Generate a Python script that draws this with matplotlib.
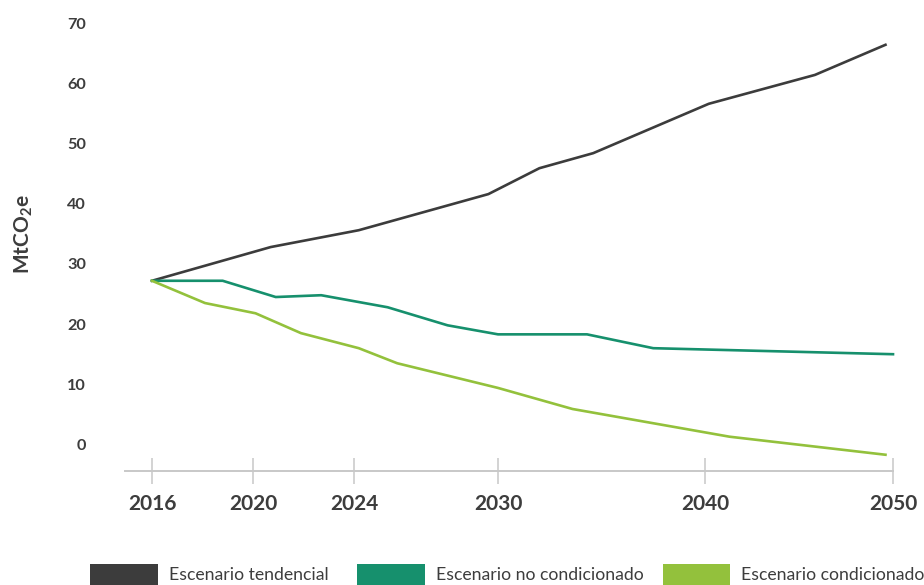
#!/usr/bin/env python
# -*- coding: utf-8 -*-

import matplotlib
matplotlib.use("Agg")
import matplotlib.pyplot as plt
import numpy as np
from matplotlib.patches import Rectangle

plt.rcParams.update({
	'font.family': ['Lato', 'DejaVu Sans'],
	'mathtext.fontset': 'custom',
	'mathtext.rm': 'Lato',
	'mathtext.bf': 'Lato:bold',
})

# datos (MtCO2e)
anios_tend = [2016, 2020.7, 2024.2, 2029.6, 2032.0, 2034.6, 2040.2, 2045.85, 2049.6]
tendencial = [27.2, 32.8, 35.6, 41.6, 45.9, 48.4, 56.6, 61.4, 66.4]

anios_nocond = [2016, 2018.8, 2020.9, 2022.7, 2025.4, 2027.9, 2030.0, 2034.3, 2037.5, 2050]
no_condicionado = [27.2, 27.2, 24.5, 24.8, 22.8, 19.8, 18.3, 18.3, 16.0, 15.0]

anios_cond = [2016, 2018.1, 2020.1, 2021.9, 2024.2, 2025.8, 2030.0, 2033.6, 2041.3, 2049.6]
condicionado = [27.2, 23.5, 21.8, 18.5, 16.0, 13.5, 9.4, 5.9, 1.3, -1.7]

ticks_x = [2016, 2020, 2024, 2030, 2040, 2050]
ticks_y = [0, 10, 20, 30, 40, 50, 60, 70]

nombres = ["Escenario tendencial", "Escenario no condicionado", "Escenario condicionado"]
colores = ["#3c3c3c", "#16906d", "#93c13c"]

# el eje x original no es lineal: se reproduce con una escala por tramos
_anc_anio = np.array([2000, 2016, 2020, 2024, 2030, 2040, 2050, 2070], dtype=float)
_anc_pos = np.array([-252, 152, 253, 354, 498, 705, 893, 1269], dtype=float)


def fwd(x):
	return np.interp(x, _anc_anio, _anc_pos)


def inv(p):
	return np.interp(p, _anc_pos, _anc_anio)


def main():
	fig = plt.figure(figsize=(9.24, 5.85), dpi=100)
	W, H = 924., 585.
	ax = fig.add_axes([125/W, 1-471/H, 768/W, 456/H])
	ax.set_xscale('function', functions=(fwd, inv))

	series = [(anios_tend, tendencial), (anios_nocond, no_condicionado), (anios_cond, condicionado)]
	for (xx, yy), c, n in zip(series, colores, nombres):
		ax.plot(xx, yy, color=c, lw=1.9, label=n, clip_on=False, solid_joinstyle='round')

	ax.set_xlim(inv(125), 2050)
	ax.set_ylim(-4.4, 71.35)

	for s in ['top', 'right', 'left']:
		ax.spines[s].set_visible(False)
	ax.spines['bottom'].set_color('#c8c8c8')
	ax.spines['bottom'].set_linewidth(1.4)

	ax.set_xticks(ticks_x)
	ax.set_xticklabels([str(t) for t in ticks_x], fontweight='bold')
	ax.tick_params(axis='x', direction='inout', length=19, width=1.1, color='#c8c8c8',
				pad=7, labelsize=15, labelcolor='#3d3d3d')
	ax.set_yticks(ticks_y)
	ax.set_yticklabels([str(t) for t in ticks_y], fontweight='bold')
	ax.tick_params(axis='y', length=0, pad=28, labelsize=11.7, labelcolor='#3d3d3d')
	ax.minorticks_off()

	ax.set_ylabel(r'$\mathbf{MtCO_2e}$', fontsize=15, color='#3d3d3d')
	ax.yaxis.set_label_coords(-0.117, 0.52)

	# leyenda inferior
	pos_caja = [90, 357, 663]
	ancho = [68, 68, 67]
	for x0, w, c, n in zip(pos_caja, ancho, colores, nombres):
		fig.add_artist(Rectangle((x0/W, 0), w/W, 21/H, transform=fig.transFigure,
								facecolor=c, edgecolor='none'))
		fig.text((x0 + w + 11)/W, 5/H, n, fontsize=12.7, color='#3d3d3d', va='baseline', ha='left')

	fig.savefig('out.png', dpi=100)


if __name__ == "__main__":
	main()
